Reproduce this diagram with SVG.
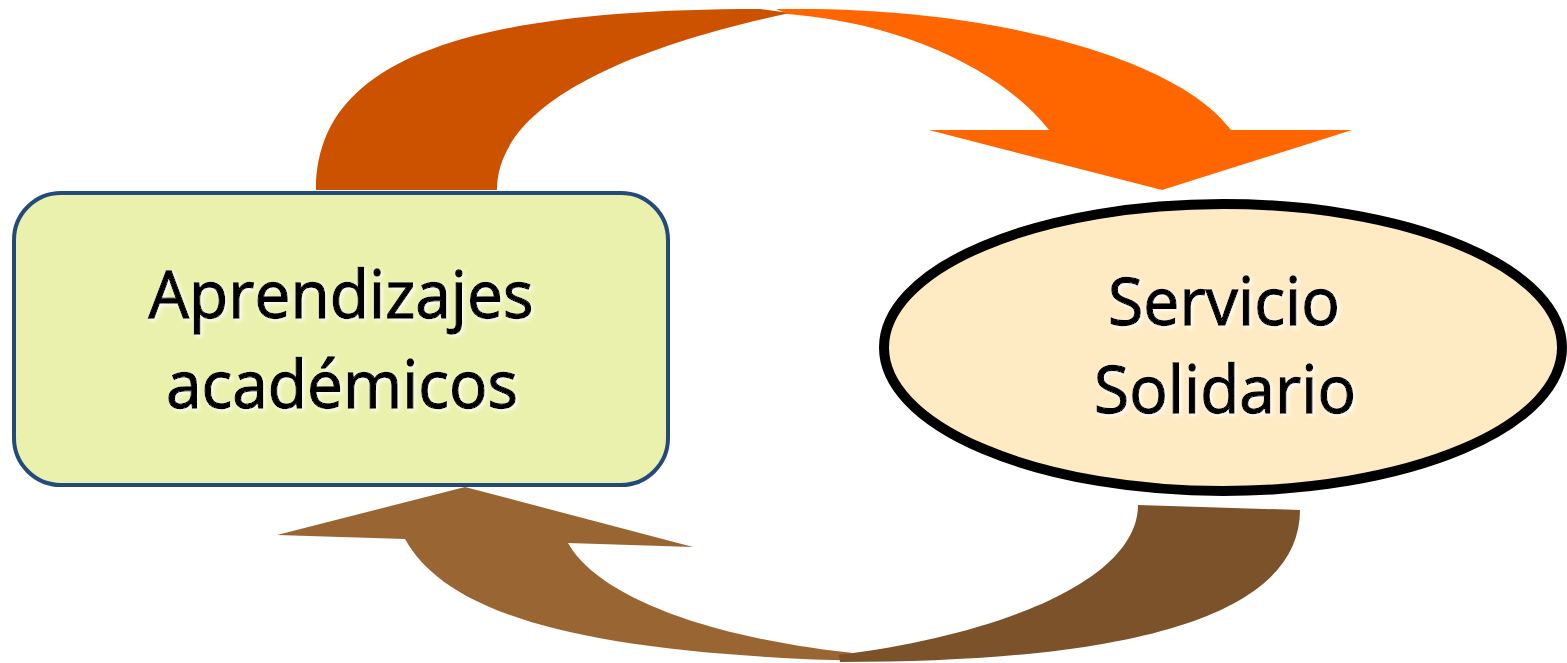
<svg xmlns="http://www.w3.org/2000/svg" width="1567" height="663" viewBox="0 0 1567 663">
  <defs>
    <filter id="glow" x="-10%" y="-10%" width="120%" height="130%">
      <feGaussianBlur in="SourceAlpha" stdDeviation="2" result="b"/>
      <feOffset in="b" dx="1.5" dy="1.5" result="o"/>
      <feFlood flood-color="#ffffff" flood-opacity="0.9"/>
      <feComposite in2="o" operator="in" result="g"/>
      <feMerge>
        <feMergeNode in="g"/>
        <feMergeNode in="SourceGraphic"/>
      </feMerge>
    </filter>
  </defs>
  <style>
    .lbl { font-family: "Open Sans", "Noto Sans", "Liberation Sans", sans-serif; font-size: 66px; fill: #000000; stroke: #000000; stroke-width: 1.3px; text-anchor: middle; filter: url(#glow); }
    .top-back { fill: #CC5200; }
    .top-front { fill: #FF6600; }
    .bot-front { fill: #996633; }
    .bot-back { fill: #7B5229; }
  </style>
  <rect width="1567" height="663" fill="#ffffff"/>
  <g id="connectors">
    <g id="arrow-top">
      <path class="top-back" d="M316,190 C316,68 445,9 760,9 L790,13 C640,45 497,100 497,190 Z"/>
      <path class="top-front" d="M776,9 L800,9 C1000,9 1180,60 1231,130 L1352,130 L1162,190 L929,130 L1049,130 C1010,80 920,25 788,14 Z"/>
    </g>
    <g id="arrow-bottom">
      <path class="bot-front" d="M405,539 C450,620 600,655 870,661 L862,654 C720,640 600,600 568,543 L693,547 L465,487 L277,535 Z"/>
      <path class="bot-back" d="M1138,505 L1300,510 C1300,610 1150,662 840,662 L839,655 C1000,635 1138,580 1138,505 Z"/>
    </g>
  </g>
  <g id="node-aprendizajes">
    <rect x="14" y="193" width="654" height="292" rx="47" ry="47" fill="#EAF1AC" stroke="#234A7B" stroke-width="4"/>
    <text class="lbl" x="341" y="318" textLength="385" lengthAdjust="spacingAndGlyphs">Aprendizajes</text>
    <text class="lbl" x="342" y="408" textLength="352" lengthAdjust="spacingAndGlyphs">académicos</text>
  </g>
  <g id="node-servicio">
    <ellipse cx="1223" cy="347.5" rx="339" ry="143.5" fill="#FEEBC4" stroke="#000000" stroke-width="10"/>
    <text class="lbl" x="1224" y="325" textLength="232" lengthAdjust="spacingAndGlyphs">Servicio</text>
    <text class="lbl" x="1225" y="413" textLength="262" lengthAdjust="spacingAndGlyphs">Solidario</text>
  </g>
</svg>
